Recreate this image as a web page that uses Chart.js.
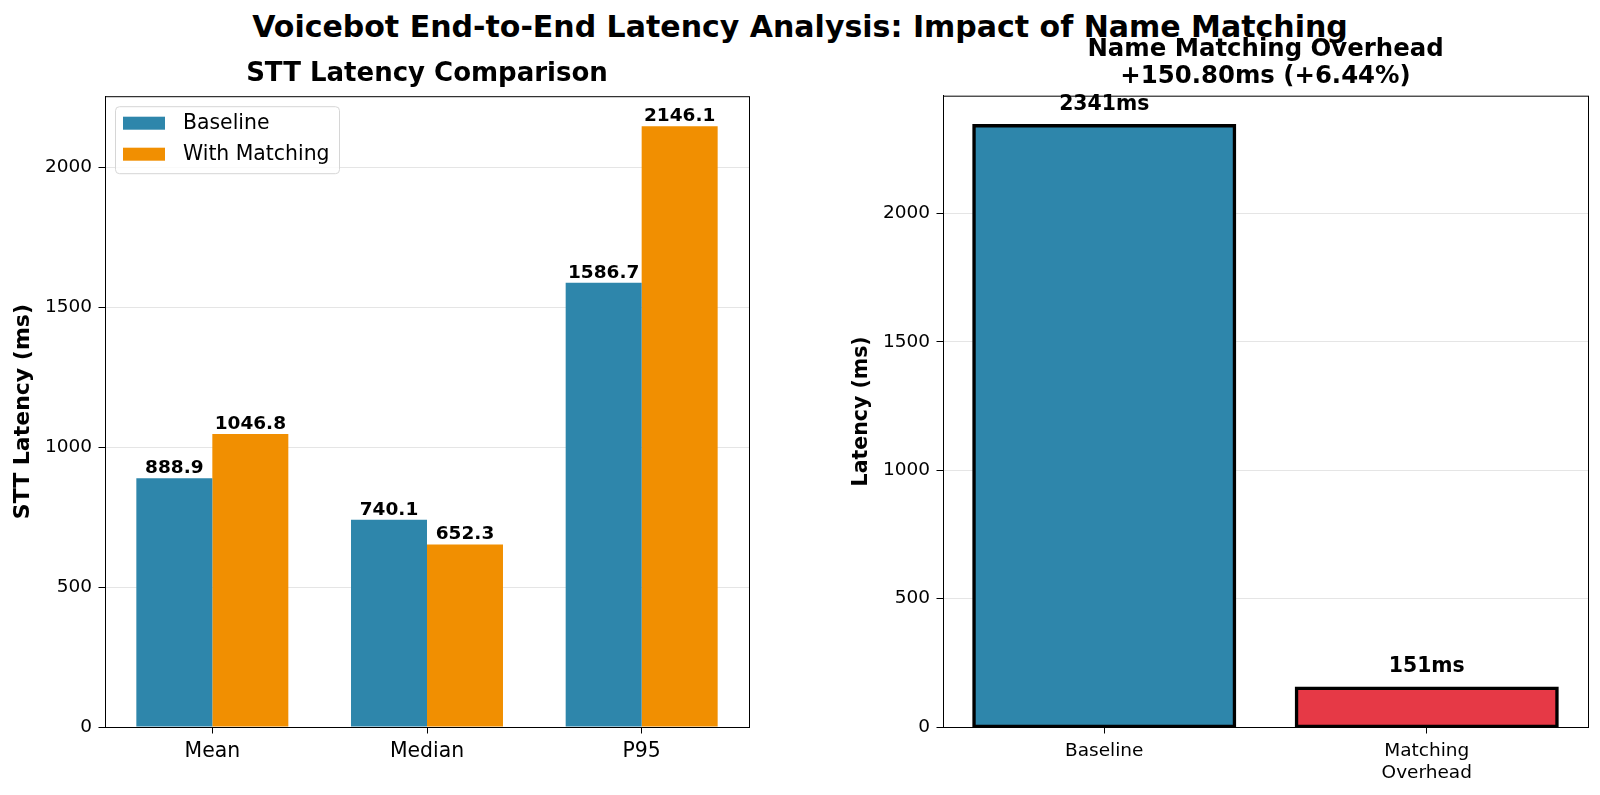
<!DOCTYPE html>
<html>
<head>
<meta charset="utf-8">
<script src="https://cdn.jsdelivr.net/npm/chart.js@4"></script>
<style>
  body { margin: 0; background: #fff; width: 1600px; height: 795px; overflow: hidden; font-family: "DejaVu Sans", sans-serif; }
  #suptitle { position: absolute; left: 0; top: 9px; width: 1600px; text-align: center; font-size: 30px; font-weight: bold; color: #000; }
  .box { position: absolute; top: 0; width: 800px; height: 795px; }
</style>
</head>
<body>
<div id="suptitle">Voicebot End-to-End Latency Analysis: Impact of Name Matching</div>
<div class="box" style="left:0"><canvas id="sttChart" width="800" height="795"></canvas></div>
<div class="box" style="left:800px"><canvas id="overheadChart" width="800" height="795"></canvas></div>
<script>
// left panel
const metrics = ["Mean", "Median", "P95"];
const baselineStt = [888.9, 740.1, 1586.7];
const matchingStt = [1046.8, 652.3, 2146.1];
const sttTicks = [0, 500, 1000, 1500, 2000];

// right panel
const overheadLabels = [["Baseline"], ["Matching", "Overhead"]];
const overheadValues = [2341.4, 150.8];
const overheadTicks = [0, 500, 1000, 1500, 2000];

const BLUE = "#2E86AB";
const ORANGE = "#F18F01";
const RED = "#E63946";
const FONT = "DejaVu Sans";

Chart.defaults.font.family = FONT;
Chart.defaults.color = "#000";
Chart.defaults.devicePixelRatio = 1;

// frame on all four sides, like matplotlib spines
const framePlugin = {
  id: "frame",
  afterDraw(chart) {
    const a = chart.chartArea, ctx = chart.ctx;
    ctx.save();
    ctx.strokeStyle = "#000";
    ctx.lineWidth = 1;
    ctx.strokeRect(a.left + 0.5, a.top + 0.5, a.right - a.left, a.bottom - a.top);
    ctx.restore();
  }
};

// center the subplot title over the plot area, not the whole canvas
const titleOverArea = {
  id: "titleOverArea",
  afterLayout(chart) {
    const t = chart.titleBlock;
    if (!t) return;
    t.left = chart.chartArea.left;
    t.right = chart.chartArea.right;
    t.width = t.right - t.left;
  }
};

const barLabels = {
  id: "barLabels",
  afterDatasetsDraw(chart, args, opts) {
    const ctx = chart.ctx;
    ctx.save();
    ctx.font = "bold " + opts.size + "px " + FONT;
    ctx.fillStyle = "#000";
    ctx.textAlign = "center";
    ctx.textBaseline = "alphabetic";
    chart.data.datasets.forEach((ds, i) => {
      chart.getDatasetMeta(i).data.forEach((bar, j) => {
        ctx.fillText(opts.format(ds.data[j]), bar.x, bar.y - opts.gap);
      });
    });
    ctx.restore();
  }
};

const legendBox = {
  id: "legendBox",
  afterDraw(chart) {
    const a = chart.chartArea, ctx = chart.ctx;
    const x = a.left + 10, y = a.top + 10, w = 224, h = 67;
    ctx.save();
    ctx.fillStyle = "rgba(255,255,255,0.8)";
    ctx.strokeStyle = "#d6d6d6";
    ctx.lineWidth = 1;
    ctx.beginPath();
    ctx.roundRect(x + 0.5, y + 0.5, w, h, 4);
    ctx.fill();
    ctx.stroke();
    ctx.font = "20.4px " + FONT;
    ctx.textBaseline = "middle";
    chart.data.datasets.forEach((ds, i) => {
      const cy = y + 17 + i * 31;
      ctx.fillStyle = ds.backgroundColor;
      ctx.fillRect(x + 8, cy - 6.5, 42, 13);
      ctx.fillStyle = "#000";
      ctx.fillText(ds.label, x + 68, cy + 1);
    });
    ctx.restore();
  }
};

function setTicks(list) {
  return scale => { scale.ticks = list.map(v => ({ value: v })); };
}

new Chart(document.getElementById("sttChart"), {
  type: "bar",
  data: {
    labels: metrics,
    datasets: [
      { label: "Baseline", data: baselineStt, backgroundColor: BLUE },
      { label: "With Matching", data: matchingStt, backgroundColor: ORANGE }
    ]
  },
  options: {
    responsive: false,
    animation: false,
    layout: { padding: { left: 0, right: 51, top: 0, bottom: 0 } },
    datasets: { bar: { categoryPercentage: 0.708, barPercentage: 1.0 } },
    plugins: {
      legend: { display: false },
      tooltip: { enabled: false },
      title: {
        display: true,
        text: "STT Latency Comparison",
        font: { size: 26, weight: "bold", lineHeight: 1.2 },
        padding: { top: 59, bottom: 6 }
      },
      barLabels: { size: 18.5, gap: 5, format: v => v.toFixed(1) }
    },
    scales: {
      x: {
        afterFit: s => { s.height = 68; },
        grid: { display: true, drawOnChartArea: false, offset: false, tickLength: 6.5, tickColor: "#000" },
        border: { color: "#000" },
        ticks: { font: { size: 20.4 }, padding: 6, maxRotation: 0 }
      },
      y: {
        min: 0,
        max: 2146.1 * 1.05,
        afterFit: s => { s.width = 105; },
        afterBuildTicks: setTicks(sttTicks),
        grid: { color: "rgba(0,0,0,0.1)", tickLength: 6.5, tickColor: "#000" },
        border: { color: "#000" },
        ticks: { font: { size: 18.5 }, padding: 6.5, callback: v => String(v) },
        title: {
          display: true,
          text: "STT Latency (ms)",
          font: { size: 22, weight: "bold", lineHeight: 1.2 },
          padding: { top: 10, bottom: 0 }
        }
      }
    }
  },
  plugins: [framePlugin, titleOverArea, barLabels, legendBox]
});

new Chart(document.getElementById("overheadChart"), {
  type: "bar",
  data: {
    labels: overheadLabels,
    datasets: [
      {
        label: "Latency",
        data: overheadValues,
        backgroundColor: [BLUE, RED],
        borderColor: "#000",
        borderWidth: 3.5,
        borderSkipped: false,
        inflateAmount: 1.75
      }
    ]
  },
  options: {
    responsive: false,
    animation: false,
    layout: { padding: { left: 0, right: 12, top: 0, bottom: 0 } },
    datasets: { bar: { categoryPercentage: 0.808, barPercentage: 1.0 } },
    plugins: {
      legend: { display: false },
      tooltip: { enabled: false },
      title: {
        display: true,
        text: ["Name Matching Overhead", "+150.80ms (+6.44%)"],
        font: { size: 24.4, weight: "bold", lineHeight: 1.1 },
        padding: { top: 36, bottom: 6 }
      },
      barLabels: { size: 20.4, gap: 16, format: v => Math.round(v) + "ms" }
    },
    scales: {
      x: {
        afterFit: s => { s.height = 68; },
        grid: { display: true, drawOnChartArea: false, offset: false, tickLength: 6.5, tickColor: "#000" },
        border: { color: "#000" },
        ticks: { font: { size: 18.5, lineHeight: 1.22 }, padding: 6, maxRotation: 0 }
      },
      y: {
        min: 0,
        max: 2341.4 * 1.05,
        afterFit: s => { s.width = 143; },
        afterBuildTicks: setTicks(overheadTicks),
        grid: { color: "rgba(0,0,0,0.1)", tickLength: 6.5, tickColor: "#000" },
        border: { color: "#000" },
        ticks: { font: { size: 18.5 }, padding: 6.5, callback: v => String(v) },
        title: {
          display: true,
          text: "Latency (ms)",
          font: { size: 20.5, weight: "bold", lineHeight: 1.2 },
          padding: { top: 49, bottom: 0 }
        }
      }
    }
  },
  plugins: [framePlugin, titleOverArea, barLabels]
});
</script>
</body>
</html>
